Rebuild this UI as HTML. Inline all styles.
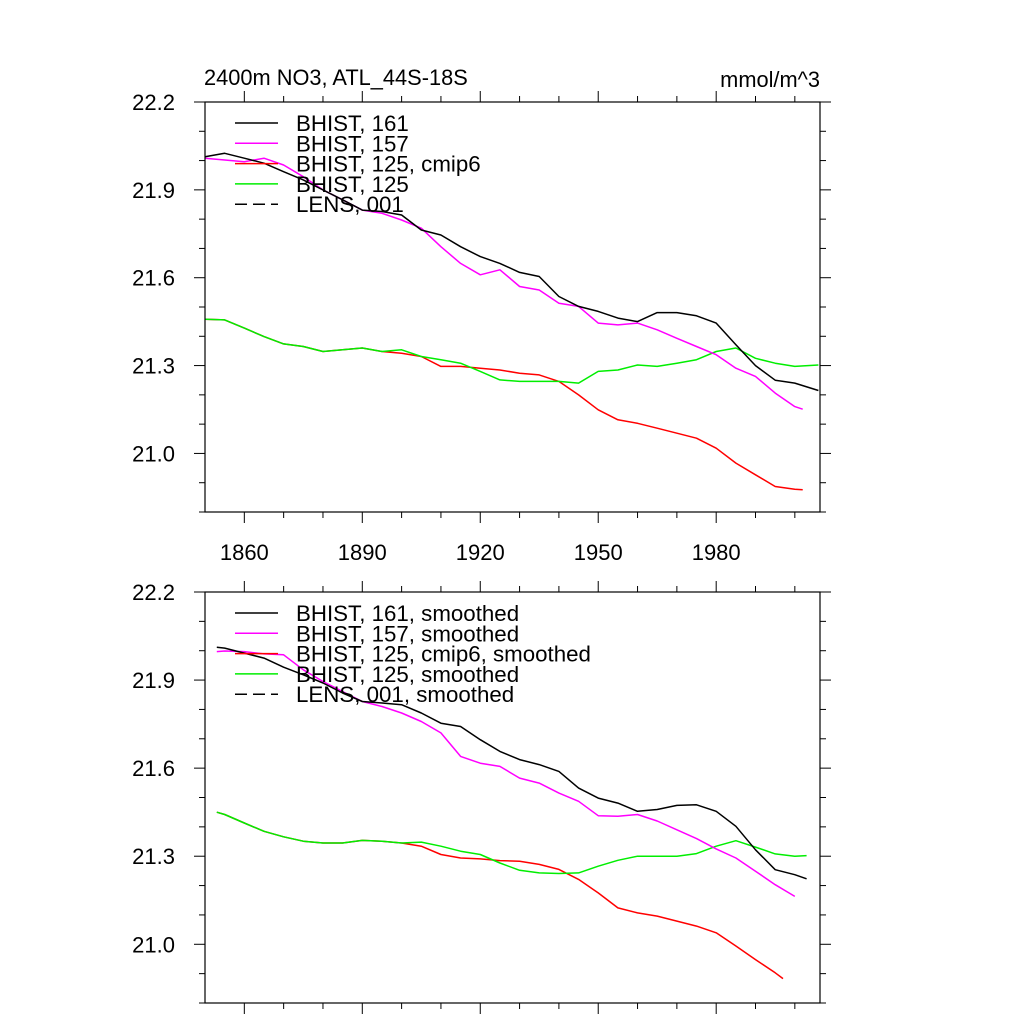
<!DOCTYPE html>
<html><head><meta charset="utf-8"><style>
html,body{margin:0;padding:0;background:#fff;}
svg{display:block;font-family:"Liberation Sans",sans-serif;}
</style></head><body>
<svg id="chart" width="1024" height="1024" viewBox="0 0 1024 1024" xmlns="http://www.w3.org/2000/svg">
<text x="204" y="85" font-size="21.8">2400m NO3, ATL_44S-18S</text>
<text x="820" y="87" font-size="21.8" text-anchor="end">mmol/m^3</text>
</svg>
<script>
const years5 = [1850,1855,1860,1865,1870,1875,1880,1885,1890,1895,1900,1905,1910,1915,1920,1925,1930,1935,1940,1945,1950,1955,1960,1965,1970,1975,1980,1985,1990,1995,2000];
const b161 = [22.013,22.025,22.008,21.991,21.962,21.934,21.90,21.866,21.831,21.826,21.814,21.763,21.746,21.706,21.672,21.649,21.618,21.604,21.536,21.502,21.485,21.462,21.45,21.481,21.481,21.47,21.445,21.371,21.30,21.25,21.24];
const b161End = [2006, 21.215];
const b157 = [22.008,22.002,21.996,22.008,21.985,21.945,21.90,21.866,21.831,21.82,21.797,21.769,21.706,21.649,21.61,21.627,21.57,21.558,21.513,21.502,21.445,21.439,21.445,21.422,21.393,21.365,21.337,21.291,21.263,21.206,21.16];
const b157End = [2002, 21.151];
const b125 = [21.458,21.456,21.428,21.399,21.374,21.365,21.348,21.354,21.36,21.348,21.354,21.331,21.32,21.308,21.28,21.251,21.246,21.246,21.246,21.24,21.28,21.285,21.302,21.297,21.308,21.32,21.348,21.36,21.325,21.308,21.297];
const b125End = [2006, 21.302];
const cmip6 = [21.458,21.456,21.428,21.399,21.374,21.365,21.348,21.354,21.36,21.348,21.342,21.331,21.297,21.297,21.291,21.285,21.274,21.268,21.246,21.2,21.149,21.115,21.103,21.086,21.069,21.052,21.018,20.967,20.927,20.887,20.878];
const cmip6End = [2002, 20.876];

const yearsS = [1853,1855,1860,1865,1870,1875,1880,1885,1890,1895,1900,1905,1910,1915,1920,1925,1930,1935,1940,1945,1950,1955,1960,1965,1970,1975,1980,1985,1990,1995,2000];
const s161 = [22.012,22.009,21.992,21.975,21.944,21.918,21.89,21.856,21.827,21.822,21.816,21.788,21.753,21.742,21.697,21.657,21.629,21.612,21.589,21.532,21.498,21.481,21.453,21.459,21.473,21.475,21.453,21.402,21.322,21.254,21.237];
const s161End = [2003, 21.223];
const s157 = [21.997,21.999,21.997,21.989,21.986,21.935,21.895,21.861,21.827,21.81,21.788,21.759,21.72,21.64,21.617,21.606,21.566,21.549,21.515,21.487,21.438,21.436,21.442,21.42,21.39,21.36,21.325,21.294,21.249,21.203,21.163];
const s125 = [21.45,21.442,21.413,21.385,21.366,21.351,21.345,21.345,21.354,21.351,21.345,21.348,21.334,21.317,21.306,21.277,21.252,21.243,21.241,21.243,21.266,21.286,21.3,21.3,21.3,21.309,21.334,21.353,21.331,21.308,21.3];
const s125End = [2003, 21.302];
const yearsSC = [1853,1855,1860,1865,1870,1875,1880,1885,1890,1895,1900,1905,1910,1915,1920,1925,1930,1935,1940,1945,1950,1955,1960,1965,1970,1975,1980,1985,1990,1995,1997];
const scmip6 = [21.45,21.442,21.413,21.385,21.366,21.351,21.345,21.345,21.354,21.351,21.345,21.334,21.306,21.294,21.291,21.285,21.283,21.272,21.255,21.221,21.175,21.124,21.107,21.096,21.079,21.062,21.039,20.994,20.948,20.903,20.883];

const yTicks = [22.2,21.9,21.6,21.3,21.0];
const xTicks = [1860,1890,1920,1950,1980];
const legendTop = ["BHIST, 161","BHIST, 157","BHIST, 125, cmip6","BHIST, 125","LENS, 001"];
const legendBot = ["BHIST, 161, smoothed","BHIST, 157, smoothed","BHIST, 125, cmip6, smoothed","BHIST, 125, smoothed","LENS, 001, smoothed"];

const svg = document.getElementById('chart');
const NS = 'http://www.w3.org/2000/svg';
const X0 = 205, X1 = 820, XMIN = 1850, XMAX = 2006.4;
const YMIN = 20.8, YMAX = 22.2;
function mk(tag, attrs){const e=document.createElementNS(NS,tag);for(const k in attrs)e.setAttribute(k,attrs[k]);svg.appendChild(e);return e;}
function xs(v){return X0+(v-XMIN)/(XMAX-XMIN)*(X1-X0);}

function panel(top, bottom, showX, name, series, labels){
  const ys = v => top+(YMAX-v)/(YMAX-YMIN)*(bottom-top);
  const g = mk('g',{});
  
  
  for(let v=YMIN; v<=YMAX+1e-6; v+=0.1){
    const y=ys(v);
    const major = yTicks.some(t=>Math.abs(t-v)<1e-6);
    const len = major?11:6;
    const t1=mk('line',{x1:X0-len,x2:X0,y1:y,y2:y,stroke:'#000','stroke-width':1});
    
    
    const t2=mk('line',{x1:X1,x2:X1+len,y1:y,y2:y,stroke:'#000','stroke-width':1});
    
    
  }
  yTicks.forEach(v=>{
    const t=mk('text',{x:175,y:ys(v)+8,'font-size':22,'text-anchor':'end'});
    t.textContent=v.toFixed(1);
    
    
  });
  for(let yr=1860; yr<=2000; yr+=10){
    const x=xs(yr);
    const major = xTicks.includes(yr);
    const len = major?11:6;
    const a=mk('line',{x1:x,x2:x,y1:bottom,y2:bottom+len,stroke:'#000','stroke-width':1});
    
    
    const b=mk('line',{x1:x,x2:x,y1:top-len,y2:top,stroke:'#000','stroke-width':1});
    
    
  }
  if(showX){
    xTicks.forEach(yr=>{
      const t=mk('text',{x:xs(yr),y:bottom+48,'font-size':22,'text-anchor':'middle'});
      t.textContent=String(yr);
      
      
    });
  }
  series.forEach(s=>{
    let pts = s.years.map((yr,i)=>[xs(yr),ys(s.vals[i])]);
    if(s.end) pts.push([xs(s.end[0]),ys(s.end[1])]);
    const p=mk('polyline',{points:pts.map(p=>p[0].toFixed(1)+','+p[1].toFixed(1)).join(' '),fill:'none',stroke:s.color,'stroke-width':1.5,'stroke-linejoin':'round'});
    
    
  });
  const colors=['#000','#ff00ff','#ff0000','#00ee00','#000'];
  labels.forEach((lab,i)=>{
    const y = top+21+i*20.3;
    const l=mk('line',{x1:235,x2:278,y1:y,y2:y,stroke:colors[i],'stroke-width':1.5,'stroke-dasharray':i==4?'12,6':'none'});
    
    
    const t=mk('text',{x:296,y:y+8,'font-size':22.3});
    t.textContent=lab;
    
    
  });
  const f=mk('rect',{x:X0,y:top,width:X1-X0,height:bottom-top,fill:'none',stroke:'#000','stroke-width':1.2});
  
  
}
panel(102,512,true,'top-panel',[
  {years:years5,vals:cmip6,end:cmip6End,color:'#ff0000',name:'line-bhist-125-cmip6'},
  {years:years5,vals:b125,end:b125End,color:'#00ee00',name:'line-bhist-125'},
  {years:years5,vals:b157,end:b157End,color:'#ff00ff',name:'line-bhist-157'},
  {years:years5,vals:b161,end:b161End,color:'#000',name:'line-bhist-161'}
],legendTop);
panel(592,1003,false,'bottom-panel',[
  {years:yearsSC,vals:scmip6,end:null,color:'#ff0000',name:'line-bhist-125-cmip6-smoothed'},
  {years:yearsS,vals:s125,end:s125End,color:'#00ee00',name:'line-bhist-125-smoothed'},
  {years:yearsS,vals:s157,end:null,color:'#ff00ff',name:'line-bhist-157-smoothed'},
  {years:yearsS,vals:s161,end:s161End,color:'#000',name:'line-bhist-161-smoothed'}
],legendBot);
</script>
</body></html>
